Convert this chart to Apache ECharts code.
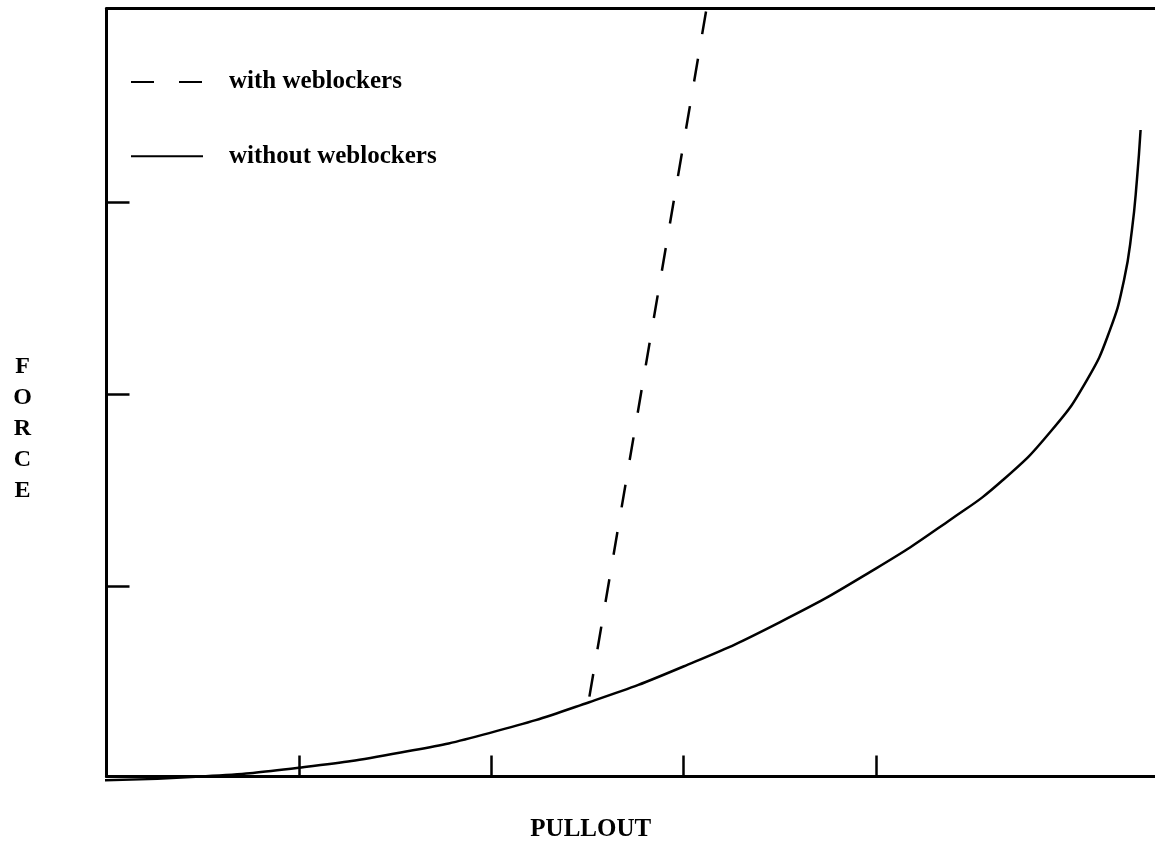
<!DOCTYPE html>
<html>
<head>
<meta charset="utf-8">
<style>html,body{margin:0;padding:0;background:#fff}#c{width:1155px;height:848px}</style>
<script src="https://cdn.jsdelivr.net/npm/echarts@6/dist/echarts.min.js"></script>
</head>
<body>
<div id="c"></div>
<script>
// Data (pullout, force) in axis units
const withoutX = [-0.01, 0.49, 1.0, 1.53, 1.99, 2.51, 3.0, 3.5, 4.0, 4.386, 4.661, 4.916, 5.098, 5.218, 5.291, 5.332, 5.358, 5.377];
const withoutY = [-0.01, 0.0096, 0.0555, 0.135, 0.236, 0.397, 0.583, 0.813, 1.093, 1.346, 1.554, 1.815, 2.075, 2.336, 2.596, 2.856, 3.117, 3.377];
const withX = [2.511, 3.12];
const withY = [0.426, 4.01];
const xTicks = [1, 2, 3, 4];
const yTicks = [1, 2, 3];
const seriesNames = ['with weblockers', 'without weblockers'];

const zip = (a, b) => a.map((v, i) => [v, b[i]]);
const FONT = 'Liberation Serif';
const letterStyle = {fontFamily: FONT, fontWeight: 'bold', fontSize: 24, lineHeight: 31, color: '#000', align: 'center'};

const chart = echarts.init(document.getElementById('c'));
chart.setOption({
  animation: false,
  backgroundColor: '#fff',
  grid: {left: 106.5, right: 0, top: 8.5, bottom: 71.5, containLabel: false},
  legend: {
    orient: 'vertical', left: 125, top: 64.5,
    itemWidth: 72, itemHeight: 20, itemGap: 49.3,
    data: seriesNames,
    itemStyle: {color: 'rgba(0,0,0,0)', borderWidth: 0, opacity: 0},
    textStyle: {fontFamily: FONT, fontWeight: 'bold', fontSize: 25, color: '#000', lineHeight: 24, padding: [0, 0, 0, 21]}
  },
  xAxis: [{
    type: 'value', min: 0, max: 5.452, position: 'bottom',
    axisLine: {onZero: false, lineStyle: {color: '#000', width: 3}},
    axisTick: {show: true, inside: true, length: 21, customValues: xTicks, lineStyle: {color: '#000', width: 2.5}},
    axisLabel: {show: false}, splitLine: {show: false},
    name: 'PULLOUT', nameLocation: 'middle', nameGap: 53.5,
    nameTextStyle: {fontFamily: FONT, fontWeight: 'bold', fontSize: 25, color: '#000', align: 'center', verticalAlign: 'middle', padding: [0, 80, 0, 0]}
  }, {
    type: 'value', min: 0, max: 5.452, position: 'top',
    axisLine: {show: true, onZero: false, lineStyle: {color: '#000', width: 3}},
    axisTick: {show: false}, axisLabel: {show: false}, splitLine: {show: false}
  }],
  yAxis: {
    type: 'value', min: 0.01, max: 4.01,
    axisLine: {show: true, onZero: false, lineStyle: {color: '#000', width: 3}},
    axisTick: {show: true, inside: true, length: 23, customValues: yTicks, lineStyle: {color: '#000', width: 2.5}},
    axisLabel: {show: false}, splitLine: {show: false},
    name: '{s| }\n{t|F}\n{t|O}\n{t|R}\n{t|C}\n{t|E}', nameLocation: 'middle', nameRotate: 0, nameGap: 84,
    nameTextStyle: {fontFamily: FONT, fontWeight: 'bold', fontSize: 24, lineHeight: 31, color: '#000', align: 'center', verticalAlign: 'middle',
      rich: {s: {fontSize: 2, lineHeight: 72, height: 72}, t: letterStyle}}
  },
  series: [{
    name: seriesNames[0], type: 'line', xAxisIndex: 0,
    data: zip(withX, withY), symbol: 'none', clip: false,
    lineStyle: {color: '#000', width: 2.5, type: [23, 25]}, itemStyle: {color: '#000'}
  }, {
    name: seriesNames[1], type: 'line', xAxisIndex: 0,
    data: zip(withoutX, withoutY), symbol: 'none', smooth: 0.5, clip: false,
    lineStyle: {color: '#000', width: 2.5}, itemStyle: {color: '#000'}
  }]
});
</script>
</body>
</html>
